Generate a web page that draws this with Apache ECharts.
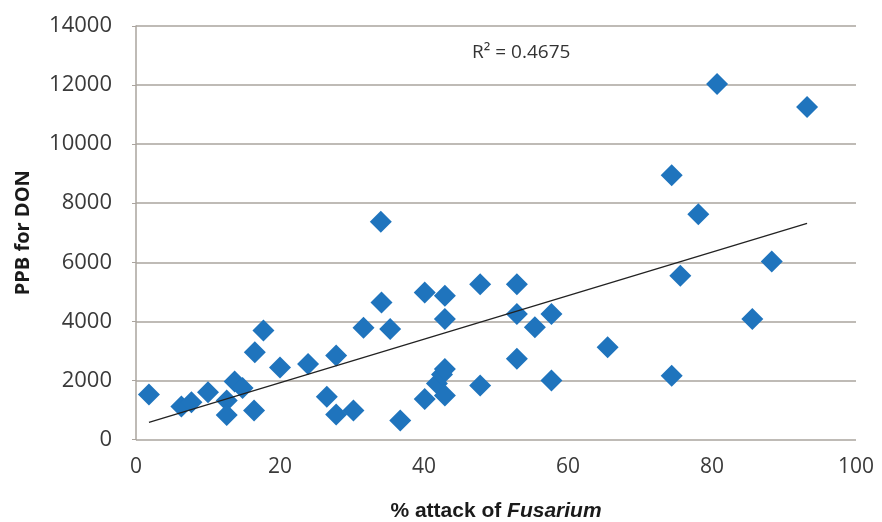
<!DOCTYPE html>
<html>
<head>
<meta charset="utf-8">
<script src="https://cdn.jsdelivr.net/npm/echarts@6/dist/echarts.min.js"></script>
<style>
  html, body { margin: 0; padding: 0; background: #ffffff; }
  #chart { width: 882px; height: 522px; }
</style>
</head>
<body>
<div id="chart"></div>
<script>
// % attack of Fusarium for each sample
const attack = [
  1.8, 6.3, 7.7, 10.0, 12.6, 12.6, 13.7, 14.8, 16.4, 16.5,
  17.7, 20.0, 23.9, 26.5, 27.8, 27.8, 30.2, 31.6, 34.0, 34.1,
  35.3, 36.7, 40.1, 40.1, 41.8, 42.5, 42.9, 42.9, 42.9, 42.9,
  47.8, 47.8, 52.9, 52.9, 52.9, 55.4, 57.7, 57.7, 65.5, 74.4,
  74.4, 75.6, 78.1, 80.7, 85.6, 88.3, 93.2
];
// DON concentration (ppb) for the same samples
const don = [
  1520, 1120, 1260, 1600, 1320, 830, 1960, 1740, 980, 2950,
  3690, 2440, 2560, 1450, 2840, 845, 980, 3780, 7370, 4640,
  3740, 640, 4980, 1375, 1900, 2200, 4870, 4080, 2390, 1490,
  5260, 1830, 5260, 4250, 2730, 3800, 4250, 2000, 3120, 8950,
  2160, 5540, 7630, 12040, 4080, 6030, 11260
];
const xTicks = [0, 20, 40, 60, 80, 100];
const yTicks = [0, 2000, 4000, 6000, 8000, 10000, 12000, 14000];
const rSquaredText = 'R\u00B2 = 0.4675';

const points = attack.map((x, i) => [x, don[i]]);

// Ordinary least-squares linear trend
const n = attack.length;
const mx = attack.reduce((s, v) => s + v, 0) / n;
const my = don.reduce((s, v) => s + v, 0) / n;
let sxy = 0, sxx = 0;
for (let i = 0; i < n; i++) {
  sxy += (attack[i] - mx) * (don[i] - my);
  sxx += (attack[i] - mx) * (attack[i] - mx);
}
const slope = sxy / sxx;
const intercept = my - slope * mx;
const xMin = Math.min(...attack), xMax = Math.max(...attack);
const trend = [[xMin, intercept + slope * xMin], [xMax, intercept + slope * xMax]];

const labelColor = '#3a3a3a';
const gridColor = '#aaa49e';
const font = '"Open Sans", "Noto Sans", sans-serif';

const chart = echarts.init(document.getElementById('chart'), null, { renderer: 'canvas' });
chart.setOption({
  backgroundColor: '#ffffff',
  animation: false,
  grid: {
    left: 136, right: 26, top: 26, bottom: 82.5,
    containLabel: false, outerBoundsMode: 'none'
  },
  xAxis: {
    type: 'value',
    min: xTicks[0],
    max: xTicks[xTicks.length - 1],
    interval: xTicks[1] - xTicks[0],
    name: '{a|% attack of }{b|Fusarium}',
    nameLocation: 'middle',
    nameGap: 61,
    nameTextStyle: {
      rich: {
        a: { fontFamily: '"Liberation Sans", Arial, sans-serif', fontWeight: 'bold', fontSize: 21, color: '#1a1a1a' },
        b: { fontFamily: '"Liberation Sans", Arial, sans-serif', fontWeight: 'bold', fontStyle: 'italic', fontSize: 21, color: '#1a1a1a' }
      }
    },
    axisLine: { show: false },
    axisTick: { show: false },
    splitLine: { show: false },
    axisLabel: { fontFamily: font, fontSize: 21, color: labelColor, margin: 17 }
  },
  yAxis: {
    type: 'value',
    min: yTicks[0],
    max: yTicks[yTicks.length - 1],
    interval: yTicks[1] - yTicks[0],
    name: 'PPB for DON',
    nameLocation: 'middle',
    nameGap: 103,
    nameRotate: 90,
    nameTextStyle: { fontFamily: font, fontWeight: 'bold', fontSize: 20, color: '#1a1a1a' },
    axisLine: { show: true, lineStyle: { color: gridColor, width: 1.5 } },
    axisTick: { show: true, length: 4, lineStyle: { color: gridColor } },
    splitLine: { show: true, lineStyle: { color: gridColor, width: 1.5 } },
    axisLabel: {
      fontFamily: font, fontSize: 22, color: labelColor, margin: 24,
      formatter: v => String(v)
    }
  },
  graphic: [{
    type: 'text',
    left: 472,
    top: 43,
    style: { text: rSquaredText, fontFamily: font, fontSize: 19, fill: '#333333' }
  }],
  series: [
    {
      type: 'scatter',
      data: points,
      symbol: 'diamond',
      symbolSize: [22, 22],
      itemStyle: { color: '#1f74bd', opacity: 1 },
      z: 3
    },
    {
      type: 'line',
      data: trend,
      symbol: 'none',
      lineStyle: { color: '#222222', width: 1.3 },
      z: 4
    }
  ]
});
</script>
</body>
</html>
